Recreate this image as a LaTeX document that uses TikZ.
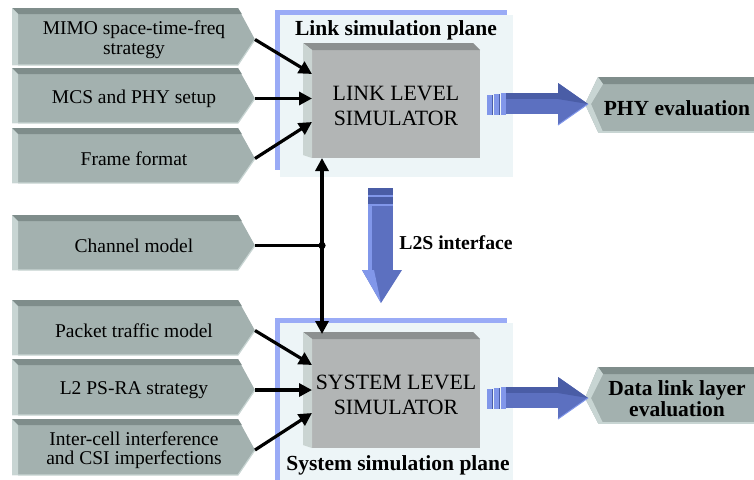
\documentclass[tikz,border=0pt]{standalone}
\usepackage{fontspec}
\setmainfont{Liberation Serif}
\usetikzlibrary{arrows.meta}
\definecolor{facec}{HTML}{A3B1AF}
\definecolor{topc}{HTML}{7F8D8B}
\definecolor{leftc}{HTML}{C8D5D3}
\definecolor{simface}{HTML}{B2B5B5}
\definecolor{simtop}{HTML}{8C9090}
\definecolor{simleft}{HTML}{CAD4D2}
\definecolor{planeblue}{HTML}{9AABF6}
\definecolor{planebg}{HTML}{EDF5F7}
\definecolor{arrmain}{HTML}{5C70C0}
\definecolor{arrdark}{HTML}{4A5DA6}
\definecolor{arrlight}{HTML}{8197EA}

\newcommand{\inbox}[4]{%
  \fill[facec] (12,#2) -- (238,#2) -- (255,{(#2+6+#3)/2}) -- (238,#3) -- (12,#3) -- cycle;
  \fill[topc] (12,#2) -- (238,#2) -- (241.8,#2+6) -- (18,#2+6) -- cycle;
  \fill[leftc] (12,#2) -- (18,#2+6) -- (18,#3) -- (12,#3) -- cycle;
  \draw[leftc, line width=1.2pt] (255,{(#2+6+#3)/2}) -- (238,#3) -- (18,#3);
  \coordinate (#1tip) at (255,{(#2+6+#3)/2});
  \node[intext] (#1) at (134,{(#2+6+#3)/2}) {#4};
}
\newcommand{\simbox}[2]{%
  \fill[simface] (312,#1+7) rectangle (480,#2);
  \fill[simtop] (303,#1) -- (473,#1) -- (480,#1+7) -- (312,#1+7) -- cycle;
  \fill[simleft] (303,#1) -- (312,#1+7) -- (312,#2) -- (303,#2-3) -- cycle;
}
\newcommand{\fatarrow}[2]{%
  \fill[arrlight] (#1,#2-9) rectangle (#1+5,#2+11);
  \fill[arrdark] (#1+5,#2-9) rectangle (#1+6,#2+11);
  \fill[arrlight] (#1+7,#2-10) rectangle (#1+12,#2+11);
  \fill[arrdark] (#1+12,#2-10) rectangle (#1+13,#2+11);
  \fill[arrlight] (#1+14,#2-11) rectangle (#1+19,#2+11);
  \fill[arrmain] (#1+19,#2-11) rectangle (#1+72,#2+10);
  \fill[arrdark] (#1+19,#2-11) rectangle (#1+72,#2-5);
  \fill[arrmain] (#1+71,#2-21) -- (#1+101,#2) -- (#1+71,#2+21) -- cycle;
  \fill[arrdark] (#1+71,#2-21) -- (#1+101,#2) -- (#1+71,#2-5) -- cycle;
  \draw[arrlight, line width=1pt] (#1+101,#2) -- (#1+71,#2+21);
}
\newcommand{\outbox}[5]{%
  \fill[facec] (598,#2) -- (760,#2) -- (760,#3) -- (598,#3) -- (585,#4) -- cycle;
  \fill[topc] (598,#2) -- (760,#2) -- (760,#2+7) -- (603,#2+7) -- cycle;
  \fill[leftc] (598,#2) -- (603,#2+7) -- (591,#4) -- (603,#3) -- (598,#3) -- (585,#4) -- cycle;
  \draw[leftc, line width=1.2pt] (598,#3) -- (760,#3);
  \coordinate (#1tip) at (585,#4);
  \node[boldlbl] (#1) at (677,{(#2+7+#3)/2}) {#5};
}

\begin{document}
\begin{tikzpicture}[x=1pt,y=-1pt,
  intext/.style={font=\fontsize{19.5}{19.5}\selectfont, align=center, inner sep=0pt, text=black},
  simtext/.style={font=\fontsize{21.8}{25}\selectfont, align=center, inner sep=0pt},
  boldlbl/.style={font=\fontsize{21.5}{19}\selectfont\bfseries, align=center, inner sep=0pt},
  conn/.style={line width=3.2pt, -{Triangle[length=13pt,width=13pt]}},
]
\useasboundingbox (0,0) rectangle (754,479);
% planes
\fill[planeblue] (275,10) rectangle (507,170);
\fill[planebg] (280,15) rectangle (513,177);
\fill[planeblue] (275,318) rectangle (507,485);
\fill[planebg] (280,323) rectangle (513,485);
\node[boldlbl] (linkplane) at (396,30) {Link simulation plane};
\node[boldlbl] (sysplane) at (398,465) {System simulation plane};
% simulators
\simbox{43}{158}
\node[simtext] (lls) at (396,105.5) {LINK LEVEL\\SIMULATOR};
\simbox{332}{448}
\node[simtext] (sls) at (396,394.5) {SYSTEM LEVEL\\SIMULATOR};
% inputs
\inbox{mimo}{8}{65}{MIMO space-time-freq\\strategy}
\inbox{mcs}{68}{123}{MCS and PHY setup}
\inbox{frame}{128}{183}{Frame format}
\inbox{chan}{215}{270}{Channel model}
\inbox{pkt}{300}{355}{Packet traffic model}
\inbox{ltwo}{359}{415}{L2 PS-RA strategy}
\inbox{icell}{419}{475}{Inter-cell interference\\and CSI imperfections}
% outputs
\outbox{phy}{77}{132}{104}{PHY evaluation}
\outbox{dll}{367}{423}{398}{Data link layer\\evaluation}
% fat arrows
\fatarrow{487}{104}
\fatarrow{487}{398}
% L2S arrow
\fill[arrdark] (368,188) rectangle (393,195);
\fill[arrlight] (368,195) rectangle (393,196.5);
\fill[arrdark] (368,197) rectangle (393,204);
\fill[arrlight] (368,204) rectangle (393,205.5);
\fill[arrmain] (368,206) rectangle (393,271);
\fill[arrlight] (368,206) rectangle (372,271);
\fill[arrmain] (362,270) -- (402,270) -- (381,303) -- cycle;
\fill[arrlight] (362,270) -- (374,270) -- (381,303) -- cycle;
\node[font=\fontsize{19.7}{20}\selectfont\bfseries, inner sep=0pt] (l2s) at (456,243) {L2S interface};
% connectors
\coordinate (lin1) at (312,74);
\coordinate (lin2) at (312,98.5);
\coordinate (lin3) at (312,122);
\coordinate (sin1) at (312,365);
\coordinate (sin2) at (312,390);
\coordinate (sin3) at (312,413);
\draw[conn] (mimotip) -- (lin1);
\draw[conn] (mcstip) -- (lin2);
\draw[conn] (frametip) -- (lin3);
\draw[conn] (pkttip) -- (sin1);
\draw[conn] (ltwotip) -- (sin2);
\draw[conn] (icelltip) -- (sin3);
\coordinate (jn) at (322,245.5);
\coordinate (llsb) at (322,158);
\coordinate (slst) at (322,334);
\draw[line width=2.3pt] (chantip) -- (jn);
\draw[conn] (jn) -- (llsb);
\draw[conn] (jn) -- (slst);
\fill (jn) circle (3.6);
\end{tikzpicture}
\end{document}
